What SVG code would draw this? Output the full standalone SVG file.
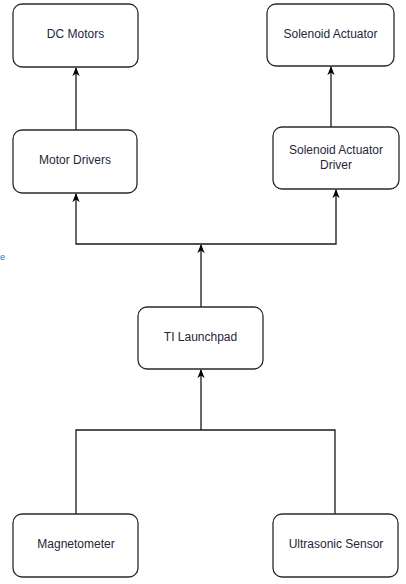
<svg xmlns="http://www.w3.org/2000/svg" width="406" height="584" viewBox="0 0 406 584">
<defs>
<marker id="arr" viewBox="0 0 10 10" refX="9" refY="5" markerWidth="7" markerHeight="7" orient="auto">
<path d="M0,1 L10,5 L0,9 L3,5 Z" fill="#000"/>
</marker>
<style>
.box{fill:#fff;stroke:#2a2a2a;stroke-width:1.3}
.lbl{font-family:"Liberation Sans",Arial,sans-serif;font-size:12px;fill:#26263a;text-anchor:middle}
.ln{fill:none;stroke:#1a1a1a;stroke-width:1.3}
</style>
</defs>
<rect width="406" height="584" fill="#fff"/>
<g id="connectors">
<path class="ln" d="M76,130 L76,68" marker-end="url(#arr)"/>
<path class="ln" d="M331,127 L331,67" marker-end="url(#arr)"/>
<path class="ln" d="M201,307 L201,245" marker-end="url(#arr)"/>
<path class="ln" d="M201,244 L76,244 L76,194" marker-end="url(#arr)"/>
<path class="ln" d="M201,244 L336,244 L336,190" marker-end="url(#arr)"/>
<path class="ln" d="M76,514 L76,430 L335,430 L335,514"/>
<path class="ln" d="M201,430 L201,370" marker-end="url(#arr)"/>
</g>
<g id="dc-motors"><rect class="box" x="13" y="4" width="125" height="63" rx="9"/><text class="lbl" x="75.5" y="38">DC Motors</text></g>
<g id="solenoid-actuator"><rect class="box" x="267" y="4" width="127" height="62" rx="9"/><text class="lbl" x="330.5" y="38">Solenoid Actuator</text></g>
<g id="motor-drivers"><rect class="box" x="13" y="130" width="124" height="63" rx="9"/><text class="lbl" x="75" y="164">Motor Drivers</text></g>
<g id="solenoid-driver"><rect class="box" x="273" y="127" width="126" height="62" rx="9"/><text class="lbl" x="336" y="154">Solenoid Actuator</text><text class="lbl" x="336" y="169">Driver</text></g>
<g id="ti-launchpad"><rect class="box" x="138" y="307" width="125" height="62" rx="9"/><text class="lbl" x="200.5" y="341">TI Launchpad</text></g>
<g id="magnetometer"><rect class="box" x="13" y="514" width="125" height="63" rx="9"/><text class="lbl" x="76" y="548">Magnetometer</text></g>
<g id="ultrasonic-sensor"><rect class="box" x="273" y="514" width="125" height="63" rx="9"/><text class="lbl" x="336" y="548">Ultrasonic Sensor</text></g>
<text x="0" y="260" font-family="Liberation Sans,Arial,sans-serif" font-size="9" fill="#1f6fd0">e</text>
</svg>
